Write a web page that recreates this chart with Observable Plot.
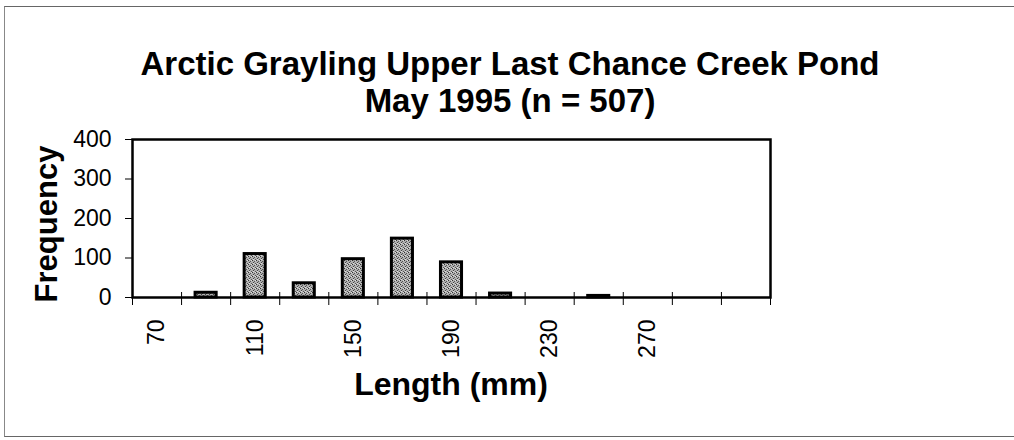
<!DOCTYPE html>
<html>
<head>
<meta charset="utf-8">
<script src="https://cdn.jsdelivr.net/npm/d3@7"></script>
<script src="https://cdn.jsdelivr.net/npm/@observablehq/plot@0.6"></script>
<style>
  html, body { margin: 0; padding: 0; background: #fff; }
  #wrap { position: relative; width: 1014px; height: 440px; overflow: hidden; font-family: "Liberation Sans", Arial, sans-serif; color: #000; }
  #border { position: absolute; left: 4px; top: 6px; width: 1020px; height: 431px; border-top: 1.5px solid #666; border-left: 1.5px solid #888; border-bottom: 1.5px solid #666; box-sizing: border-box; }
  #title { position: absolute; left: 0; top: 45px; width: 1020px; text-align: center; font-weight: bold; font-size: 33px; line-height: 37px; }
  #xlabel { position: absolute; left: 151px; width: 600px; top: 368px; text-align: center; font-weight: bold; font-size: 32px; line-height: 32px; }
  #ylabel { position: absolute; left: -103px; top: 208px; width: 300px; height: 32px; text-align: center; font-weight: bold; font-size: 31px; line-height: 32px; transform: rotate(-90deg); transform-origin: 150px 16px; }
  svg { position: absolute; left: 0; top: 0; }
</style>
</head>
<body>
<div id="wrap">
  <div id="border"></div>
  <div id="chart"></div>
  <div id="title">Arctic Grayling Upper Last Chance Creek Pond<br>May 1995 (n = 507)</div>
  <div id="ylabel">Frequency</div>
  <div id="xlabel">Length (mm)</div>
</div>
<script>
// Length class midpoints (mm) and frequency per class
const lengths = [70, 90, 110, 130, 150, 170, 190, 210, 230, 250, 270, 290, 310];
const counts  = [0, 12, 110, 36, 97, 149, 89, 10, 0, 4, 0, 0, 0];
const binWidth = 20;
const xTickLabels = [70, 110, 150, 190, 230, 270];
const yTicks = [0, 100, 200, 300, 400];
const yDomain = [0, 400];

const data = lengths.map((len, i) => ({len, count: counts[i]})).filter(d => d.count > 0);
const binEdges = lengths.map(l => l - binWidth / 2).concat([lengths[lengths.length - 1] + binWidth / 2]);

const chart = Plot.plot({
  width: 1014,
  height: 440,
  marginTop: 139,
  marginBottom: 143,
  marginLeft: 132,
  marginRight: 244,
  style: {fontFamily: "'Liberation Sans', Arial, sans-serif", fontSize: "23px", color: "#000", background: "transparent", overflow: "visible"},
  x: {domain: [binEdges[0], binEdges[binEdges.length - 1]], type: "linear"},
  y: {domain: yDomain},
  marks: [
    Plot.rectY(data, {
      x1: d => d.len - binWidth / 2,
      x2: d => d.len + binWidth / 2,
      y: "count",
      insetLeft: 14,
      insetRight: 14,
      fill: "url(#stipple)",
      stroke: "#000",
      strokeWidth: 3
    }),
    Plot.ruleX(binEdges, {x: d => d, y1: 0, y2: 0, insetTop: 8, insetBottom: 5, stroke: "#000", strokeWidth: 1}),
    Plot.axisY({ticks: yTicks, tickSize: 7, tickPadding: 14, fontSize: 23, label: null, stroke: "#000", strokeWidth: 1}),
    Plot.axisX({ticks: xTickLabels, tickSize: 0, tickPadding: 22, tickRotate: -90, fontSize: 23, label: null}),
    Plot.frame({stroke: "#000", strokeWidth: 2.5})
  ]
});

chart.insertAdjacentHTML("afterbegin",
  '<defs><pattern id="stipple" width="4" height="4" patternUnits="userSpaceOnUse">' +
  '<rect width="4" height="4" fill="#b0b0b0"></rect>' +
  '<rect x="0" y="0" width="1" height="1" fill="#333"></rect>' +
  '<rect x="2" y="1" width="1" height="1" fill="#555"></rect>' +
  '<rect x="1" y="2" width="1" height="1" fill="#444"></rect>' +
  '<rect x="3" y="3" width="1" height="1" fill="#555"></rect>' +
  '<rect x="3" y="0" width="1" height="1" fill="#ddd"></rect>' +
  '<rect x="1" y="3" width="1" height="1" fill="#ddd"></rect>' +
  '</pattern></defs>');

document.getElementById("chart").appendChild(chart);
</script>
</body>
</html>
